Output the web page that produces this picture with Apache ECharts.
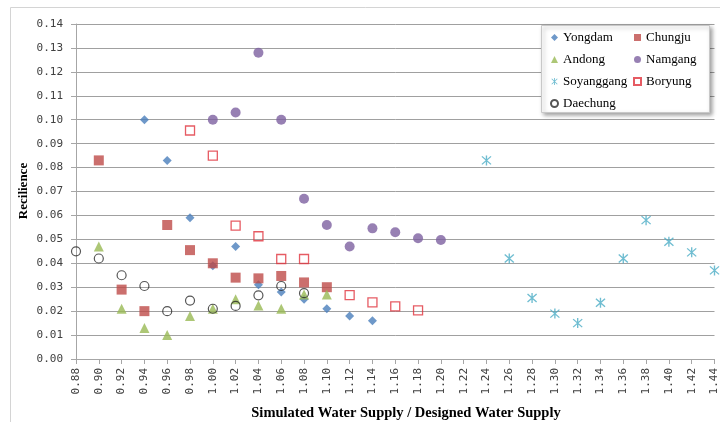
<!DOCTYPE html>
<html>
<head>
<meta charset="utf-8">
<script src="https://cdn.jsdelivr.net/npm/echarts@6/dist/echarts.min.js"></script>
<style>html,body{margin:0;padding:0;background:#fff}#c{width:720px;height:422px}</style>
</head>
<body>
<div id="c"></div>
<script>
const xTicks = [0.88,0.90,0.92,0.94,0.96,0.98,1.00,1.02,1.04,1.06,1.08,1.10,1.12,1.14,1.16,1.18,1.20,1.22,1.24,1.26,1.28,1.30,1.32,1.34,1.36,1.38,1.40,1.42,1.44];
const yTicks = [0.00,0.01,0.02,0.03,0.04,0.05,0.06,0.07,0.08,0.09,0.10,0.11,0.12,0.13,0.14];

const yongdamX = [0.94,0.96,0.98,1.00,1.02,1.04,1.06,1.08,1.10,1.12,1.14];
const yongdamY = [0.100,0.083,0.059,0.039,0.047,0.031,0.028,0.025,0.021,0.018,0.016];

const chungjuX = [0.90,0.92,0.94,0.96,0.98,1.00,1.02,1.04,1.06,1.08,1.10];
const chungjuY = [0.083,0.029,0.020,0.056,0.0455,0.040,0.034,0.0337,0.0347,0.032,0.030];

const andongX = [0.90,0.92,0.94,0.96,0.98,1.00,1.02,1.04,1.06,1.08,1.10];
const andongY = [0.047,0.021,0.013,0.010,0.018,0.021,0.025,0.0224,0.021,0.027,0.027];

const namgangX = [1.00,1.02,1.04,1.06,1.08,1.10,1.12,1.14,1.16,1.18,1.20];
const namgangY = [0.100,0.103,0.128,0.100,0.067,0.056,0.047,0.0546,0.053,0.0505,0.0497];

const soyanggangX = [1.24,1.26,1.28,1.30,1.32,1.34,1.36,1.38,1.40,1.42,1.44];
const soyanggangY = [0.083,0.042,0.0255,0.019,0.015,0.0235,0.042,0.058,0.049,0.0446,0.037];

const boryungX = [0.98,1.00,1.02,1.04,1.06,1.08,1.12,1.14,1.16,1.18];
const boryungY = [0.0955,0.085,0.0557,0.0513,0.0418,0.0418,0.0267,0.0237,0.022,0.0203];

const daechungX = [0.88,0.90,0.92,0.94,0.96,0.98,1.00,1.02,1.04,1.06,1.08];
const daechungY = [0.045,0.042,0.035,0.0305,0.020,0.0244,0.021,0.0222,0.0266,0.0305,0.0275];

const xTitle = 'Simulated Water Supply / Designed Water Supply';
const yTitle = 'Recilience';

function pts(xs, ys){ return xs.map((x,i)=>[x, ys[i]]); }

const asterisk = 'path://M4.4,0 L5.6,0 L5.6,10 L4.4,10 Z M0.6,1.4 L1.4,0.6 L9.4,8.6 L8.6,9.4 Z M8.6,0.6 L9.4,1.4 L1.4,9.4 L0.6,8.6 Z';

const chart = echarts.init(document.getElementById('c'), null, {renderer:'canvas'});
const serif = '"Liberation Serif", "Times New Roman", serif';
const mono = '"DejaVu Sans Mono", monospace';

function sc(name, data, symbol, size, style){
  return {name, type:'scatter', data, symbol, symbolSize:size, itemStyle:style, emphasis:{disabled:true}};
}

chart.setOption({
  animation:false,
  backgroundColor:'#fff',
  graphic:[
    {type:'rect', shape:{x:10.5,y:7.5,width:740,height:440}, style:{fill:'none', stroke:'#d4d4d4', lineWidth:1}, z:-10},
    {type:'rect', shape:{x:541.5,y:25.5,width:168,height:87}, style:{fill:'#fff', stroke:'#c8c8c8', lineWidth:1, shadowBlur:4, shadowOffsetX:2, shadowOffsetY:2, shadowColor:'rgba(0,0,0,0.35)'}, z:50},
    {type:'text', x:406, y:413, style:{text:xTitle, font:'bold 14.5px ' + serif, fill:'#000', textAlign:'center', textVerticalAlign:'middle'}},
    {type:'text', x:24, y:191, rotation:Math.PI/2, style:{text:yTitle, font:'bold 13px ' + serif, fill:'#000', textAlign:'center', textVerticalAlign:'middle'}}
  ],
  grid:{left:76, right:4, top:24, bottom:63, containLabel:false},
  xAxis:{
    type:'value', min:0.88, max:1.44, interval:0.02,
    axisLine:{show:true, onZero:false, lineStyle:{color:'#a6a6a6', width:1}},
    axisTick:{show:true, length:5, lineStyle:{color:'#a6a6a6'}},
    splitLine:{show:false},
    axisLabel:{rotate:90, margin:9, fontFamily:mono, fontSize:11, color:'#404040',
      formatter:v=>{ const t = xTicks.find(k=>Math.abs(k-v)<1e-6); return (t!==undefined?t:v).toFixed(2); }}
  },
  yAxis:{
    type:'value', min:0, max:0.14, interval:0.01,
    axisLine:{show:true, lineStyle:{color:'#a6a6a6', width:1}},
    axisTick:{show:true, length:5, lineStyle:{color:'#a6a6a6'}},
    splitLine:{show:true, lineStyle:{color:'#a0a0a0', width:1}},
    axisLabel:{margin:13, fontFamily:mono, fontSize:11, color:'#404040',
      formatter:v=>{ const t = yTicks.find(k=>Math.abs(k-v)<1e-6); return (t!==undefined?t:v).toFixed(2); }}
  },
  legend:[
    {data:['Yongdam','Andong','Soyanggang','Daechung'], orient:'vertical', left:545, top:26, itemGap:9, itemWidth:7, itemHeight:7, z:60,
     textStyle:{fontFamily:serif, fontSize:13, color:'#000'}, selectedMode:false},
    {data:['Chungju','Namgang','Boryung'], orient:'vertical', left:628, top:26, itemGap:9, itemWidth:7, itemHeight:7, z:60,
     textStyle:{fontFamily:serif, fontSize:13, color:'#000'}, selectedMode:false}
  ],
  series:[
    sc('Yongdam', pts(yongdamX,yongdamY), 'diamond', 9, {color:'#4a7ebb'}),
    sc('Chungju', pts(chungjuX,chungjuY), 'rect', 10, {color:'#be4b48'}),
    sc('Andong', pts(andongX,andongY), 'triangle', 10, {color:'#98b954'}),
    sc('Namgang', pts(namgangX,namgangY), 'circle', 10, {color:'#7d60a0'}),
    sc('Soyanggang', pts(soyanggangX,soyanggangY), asterisk, 10, {color:'#4bacc6'}),
    sc('Boryung', pts(boryungX,boryungY), 'rect', 9, {color:'rgba(255,255,255,0)', borderColor:'#e0323c', borderWidth:1.3}),
    sc('Daechung', pts(daechungX,daechungY), 'circle', 9, {color:'rgba(255,255,255,0)', borderColor:'#2a2a2a', borderWidth:1.2})
  ]
});
</script>
</body>
</html>
